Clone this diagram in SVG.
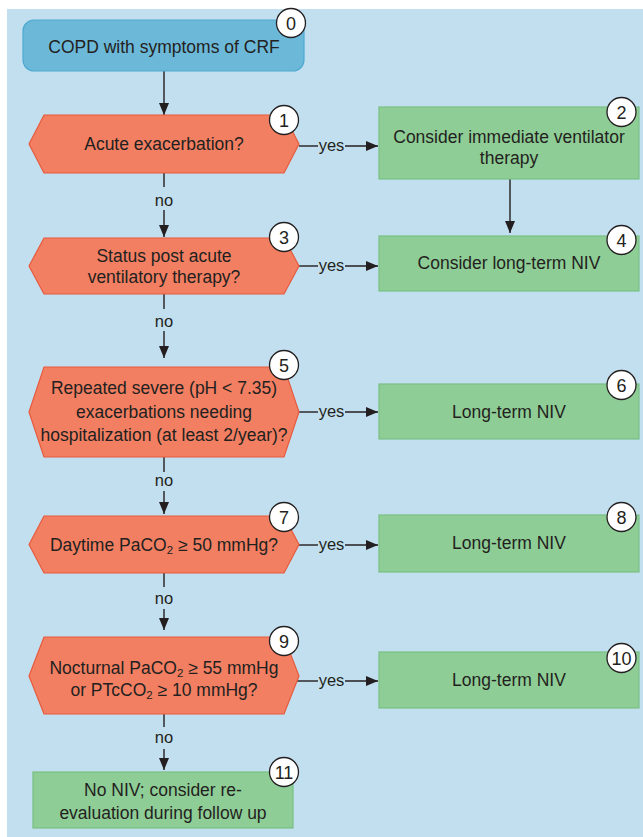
<svg xmlns="http://www.w3.org/2000/svg" width="643" height="837" viewBox="0 0 643 837">
<defs>
<marker id="ah" viewBox="0 0 12 10" refX="12" refY="5" markerWidth="12" markerHeight="10" markerUnits="userSpaceOnUse" orient="auto">
<path d="M0,0 L12,5 L0,10 Z" fill="#231f20"/>
</marker>
<style>
.t{font-family:"Liberation Sans",Arial,sans-serif;font-size:17.5px;fill:#231f20;text-anchor:middle}
.num{font-family:"Liberation Sans",Arial,sans-serif;font-size:18px;fill:#231f20;text-anchor:middle}
.l{font-family:"Liberation Sans",Arial,sans-serif;font-size:16.5px;fill:#231f20;text-anchor:middle}
.n{font-family:"Liberation Sans",Arial,sans-serif;font-size:16.5px;fill:#231f20;text-anchor:middle}
.start{fill:#6cb8d9;stroke:#4ea9d1;stroke-width:1.2}
.dec{fill:#f27f62;stroke:#e65a3d;stroke-width:1.2}
.act{fill:#8fcd96;stroke:#78c084;stroke-width:1.2}
.c{fill:#ffffff;stroke:#231f20;stroke-width:1.3}
.e{stroke:#231f20;stroke-width:1.4;fill:none}
.sub{font-size:11.5px}
</style>
</defs>
<rect x="0" y="0" width="643" height="837" fill="#ffffff"/>
<rect x="7" y="9" width="636" height="828" fill="#c2dfef"/>

<g id="connectors">
<line class="e" x1="164" y1="71" x2="164" y2="115" marker-end="url(#ah)"/>
<line class="e" x1="164" y1="173" x2="164" y2="187"/>
<line class="e" x1="164" y1="210" x2="164" y2="237" marker-end="url(#ah)"/>
<line class="e" x1="164" y1="294" x2="164" y2="309"/>
<line class="e" x1="164" y1="331" x2="164" y2="358" marker-end="url(#ah)"/>
<line class="e" x1="164" y1="457" x2="164" y2="472"/>
<line class="e" x1="164" y1="491" x2="164" y2="514" marker-end="url(#ah)"/>
<line class="e" x1="164" y1="573" x2="164" y2="587"/>
<line class="e" x1="164" y1="609" x2="164" y2="630" marker-end="url(#ah)"/>
<line class="e" x1="164" y1="713" x2="164" y2="727"/>
<line class="e" x1="164" y1="749" x2="164" y2="770" marker-end="url(#ah)"/>
<line class="e" x1="510" y1="179" x2="510" y2="233" marker-end="url(#ah)"/>
<line class="e" x1="299" y1="146" x2="318" y2="146"/>
<line class="e" x1="345" y1="146" x2="378" y2="146" marker-end="url(#ah)"/>
<line class="e" x1="299" y1="266" x2="318" y2="266"/>
<line class="e" x1="345" y1="266" x2="378" y2="266" marker-end="url(#ah)"/>
<line class="e" x1="299" y1="412" x2="318" y2="412"/>
<line class="e" x1="345" y1="412" x2="378" y2="412" marker-end="url(#ah)"/>
<line class="e" x1="299" y1="545" x2="318" y2="545"/>
<line class="e" x1="345" y1="545" x2="378" y2="545" marker-end="url(#ah)"/>
<line class="e" x1="297" y1="681" x2="318" y2="681"/>
<line class="e" x1="345" y1="681" x2="378" y2="681" marker-end="url(#ah)"/>
<text class="n" x="164" y="206">no</text>
<text class="n" x="164" y="327">no</text>
<text class="n" x="164" y="486">no</text>
<text class="n" x="164" y="604">no</text>
<text class="n" x="164" y="743">no</text>
<text class="l" x="331.5" y="151">yes</text>
<text class="l" x="331.5" y="271">yes</text>
<text class="l" x="331.5" y="417">yes</text>
<text class="l" x="331.5" y="550">yes</text>
<text class="l" x="331.5" y="686">yes</text>
</g>

<g id="n0">
<rect class="start" x="23" y="20" width="281" height="51" rx="11"/>
<text class="t" x="164" y="53">COPD with symptoms of CRF</text>
<circle class="c" cx="291" cy="23" r="14.5"/>
<text class="num" x="291" y="29.5">0</text>
</g>

<g id="n1">
<path class="dec" d="M29,144 L44,115 L284,115 L299,144 L284,173 L44,173 Z"/>
<text class="t" x="164" y="150">Acute exacerbation?</text>
<circle class="c" cx="284" cy="120" r="14.5"/>
<text class="num" x="284" y="126.5">1</text>
</g>

<g id="n2">
<rect class="act" x="379" y="107" width="260" height="72"/>
<text class="t" x="509" y="143">Consider immediate ventilator</text>
<text class="t" x="509" y="164">therapy</text>
<circle class="c" cx="621.5" cy="112" r="14.5"/>
<text class="num" x="621.5" y="118.5">2</text>
</g>

<g id="n3">
<path class="dec" d="M29,266 L44,238 L284,238 L299,266 L284,294 L44,294 Z"/>
<text class="t" x="164" y="262">Status post acute</text>
<text class="t" x="164" y="283">ventilatory therapy?</text>
<circle class="c" cx="284" cy="237" r="14.5"/>
<text class="num" x="284" y="243.5">3</text>
</g>

<g id="n4">
<rect class="act" x="379" y="236" width="260" height="55"/>
<text class="t" x="509" y="269">Consider long-term NIV</text>
<circle class="c" cx="621.5" cy="240" r="14.5"/>
<text class="num" x="621.5" y="246.5">4</text>
</g>

<g id="n5">
<path class="dec" d="M29,412 L44,367 L284,367 L299,412 L284,457 L44,457 Z"/>
<text class="t" x="164" y="394">Repeated severe (pH &lt; 7.35)</text>
<text class="t" x="164" y="418">exacerbations needing</text>
<text class="t" x="164" y="441">hospitalization (at least 2/year)?</text>
<circle class="c" cx="284" cy="365" r="14.5"/>
<text class="num" x="284" y="371.5">5</text>
</g>

<g id="n6">
<rect class="act" x="379" y="384" width="260" height="55"/>
<text class="t" x="509" y="418">Long-term NIV</text>
<circle class="c" cx="621.5" cy="385" r="14.5"/>
<text class="num" x="621.5" y="391.5">6</text>
</g>

<g id="n7">
<path class="dec" d="M29,544.5 L44,516 L284,516 L299,544.5 L284,573 L44,573 Z"/>
<text class="t" x="164" y="551">Daytime PaCO<tspan class="sub" dy="3">2</tspan><tspan dy="-3"> ≥ 50 mmHg?</tspan></text>
<circle class="c" cx="284" cy="517" r="14.5"/>
<text class="num" x="284" y="523.5">7</text>
</g>

<g id="n8">
<rect class="act" x="379" y="515" width="260" height="57"/>
<text class="t" x="509" y="549">Long-term NIV</text>
<circle class="c" cx="621.5" cy="517" r="14.5"/>
<text class="num" x="621.5" y="523.5">8</text>
</g>

<g id="n9">
<path class="dec" d="M29,676 L44,637 L284,637 L299,676 L284,714 L44,714 Z"/>
<text class="t" x="164" y="674">Nocturnal PaCO<tspan class="sub" dy="3">2</tspan><tspan dy="-3"> ≥ 55 mmHg</tspan></text>
<text class="t" x="164" y="696">or PTcCO<tspan class="sub" dy="3">2</tspan><tspan dy="-3"> ≥ 10 mmHg?</tspan></text>
<circle class="c" cx="284" cy="641" r="14.5"/>
<text class="num" x="284" y="647.5">9</text>
</g>

<g id="n10">
<rect class="act" x="379" y="652" width="260" height="56"/>
<text class="t" x="509" y="686">Long-term NIV</text>
<circle class="c" cx="621.5" cy="658" r="14.5"/>
<text class="num" x="621.5" y="664.5">10</text>
</g>

<g id="n11">
<rect class="act" x="33" y="772" width="260" height="56"/>
<text class="t" x="163" y="796">No NIV; consider re-</text>
<text class="t" x="163" y="819">evaluation during follow up</text>
<circle class="c" cx="284" cy="772" r="14.5"/>
<text class="num" x="284" y="778.5">11</text>
</g>
</svg>
